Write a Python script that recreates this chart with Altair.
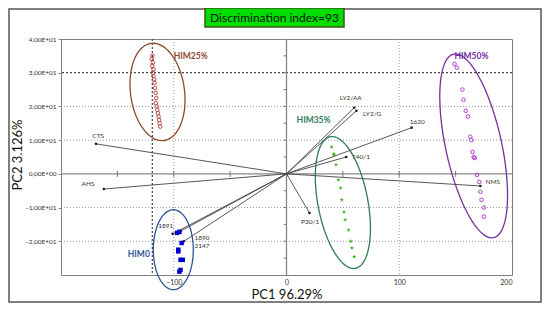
import altair as alt
import pandas as pd
import numpy as np

# ---------------- data ----------------
him25_x = [-119, -119.5, -118.5, -119, -118, -118.5, -118, -117.5, -117, -116.5, -116, -115.5, -116, -115, -114.5, -114, -113.5, -113, -112.5, -112]
him25_y = [35, 34, 33, 32, 31, 30, 29, 28, 27, 25.5, 24, 22.5, 21, 20, 19, 18, 17, 16, 15, 14]

him50_x = [149, 151, 156, 157, 159, 161, 163, 164, 165, 166, 167, 169, 171, 172, 173, 175, 175]
him50_y = [32.6, 31.5, 25, 22, 18.7, 17, 11, 10, 6.5, 5, 4.7, -0.3, -2.4, -5.3, -7.7, -10, -12.7]

him35_x = [40, 42, 42, 44, 46, 48, 49, 51, 52, 55, 57, 58, 60]
him35_y = [8, 5.6, 6, 2.7, -1.8, -4.2, -7.7, -11.3, -13.6, -16.6, -20, -22, -24.6]

him0_x = [-97, -95, -93, -96, -96, -92, -94, -94, -95]
him0_y = [-17.5, -17.2, -20.5, -22.5, -23, -25.5, -25.5, -28.5, -29]

load_names = ["CTS", "AHS", "1891", "1890", "2147", "P30/1", "T40/1", "NMS", "1620", "LY2/AA", "LY2/G"]
load_x = [-169, -162, -101, -94, -91, 20.4, 53, 172, 111, 60, 62]
load_y = [8.9, -4.5, -17.8, -17.0, -20.0, -11.6, 5.0, -3.6, 13.7, 19.6, 18.7]
lab_x = [-167, -176, -107, -75, -75, 21, 66, 183, 116, 57, 76]
lab_y = [11.3, -3.0, -15.4, -19.0, -21.4, -14.2, 5.0, -2.4, 15.4, 22.5, 17.8]

groups = ["HIM25%", "HIM50%", "HIM35%", "HIM0"]
group_lab_x = [-85, 164, 24, -131]
group_lab_y = [35, 35, 16, -23.7]
# ellipse: centre (data), half axes (px), tilt (deg, top leaning left)
ell_cx = [-114.4, 166, 50, -100.4]
ell_cy = [24.3, 8.3, -8.5, -22.5]
ell_a = [49, 94, 67, 40]
ell_b = [27, 28, 25, 20]
ell_t = [7.6, 12.3, 10.8, 0]

ell_colors = ["#8B4A2B", "#7030A0", "#2E7D5B", "#2F5597"]
lab_colors = ["#B5442F", "#7030A0", "#2EA07A", "#2F5597"]
pt_colors = ["#B8504A", "#B040D0", "#44B020", "#0000CC"]

grid_x = [-100, 100]
grid_y = [-20, -10, 10, 20]
dash_x = [-119]
dash_y = [30]
hticks = [-150, -100, -50, 50, 100, 150]
vticks = [-25, -20, -15, -10, -5, 5, 10, 15, 20, 25, 30, 35]

# ---------------- layout ----------------
W, H = 451, 236
XD, YD = [-200, 200], [-30, 40]
sx = W / (XD[1] - XD[0])
sy = H / (YD[1] - YD[0])
FONT = "Lato"

xs = alt.Scale(domain=XD, nice=False, zero=False)
ys = alt.Scale(domain=YD, nice=False, zero=False)
xaxis = alt.Axis(values=[-100, 0, 100, 200], labelFontSize=7, labelColor="#333", domain=False, ticks=False,
                 grid=False, title="PC1 96.29%", titleFontSize=13, titleFont=FONT, titleFontWeight="normal",
                 labelPadding=3, titlePadding=3, titleColor="#111", labelFont=FONT)
yaxis = alt.Axis(values=[-20, -10, 0, 10, 20, 30, 40], labelFontSize=6.5, labelColor="#333", domain=False,
                 ticks=True, tickSize=3, tickColor="#888", grid=False, title=None, labelFont=FONT,
                 labelExpr="datum.value == 0 ? '0,00E+00' : replace(format(datum.value/10, '.2f'), '.', ',') + 'E+01'")


def X(f):
    return alt.X(f, type="quantitative", scale=xs, axis=xaxis)


def Y(f):
    return alt.Y(f, type="quantitative", scale=ys, axis=yaxis)


# points
pts = []
for g, xx, yy in zip(groups, [him25_x, him50_x, him35_x, him0_x], [him25_y, him50_y, him35_y, him0_y]):
    for a, b in zip(xx, yy):
        pts.append({"g": g, "x": a, "y": b})
pts = pd.DataFrame(pts)

# ellipses
ell = []
phi = np.linspace(0, 2 * np.pi, 73)
for g, cx, cy, a, b, t in zip(groups, ell_cx, ell_cy, ell_a, ell_b, ell_t):
    tr = np.radians(t)
    ux, uy = -np.sin(tr), np.cos(tr)
    vx, vy = np.cos(tr), np.sin(tr)
    for i, p in enumerate(phi):
        px = a * np.cos(p) * ux + b * np.sin(p) * vx
        py = a * np.cos(p) * uy + b * np.sin(p) * vy
        ell.append({"g": g, "i": i, "x": cx + px / sx, "y": cy + py / sy})
ell = pd.DataFrame(ell)

loads = pd.DataFrame({"n": load_names, "x": load_x, "y": load_y, "lx": lab_x, "ly": lab_y, "x0": 0, "y0": 0})
glabs = pd.DataFrame({"g": groups, "x": group_lab_x, "y": group_lab_y})
color = alt.Color("g:N", scale=alt.Scale(domain=groups, range=ell_colors), legend=None)

layers = []
# page border
layers.append(alt.Chart(pd.DataFrame({"a": [0]})).mark_rect(fill=None, stroke="#555", strokeWidth=1.5).encode(
    x=alt.value(-52), x2=alt.value(480), y=alt.value(-30), y2=alt.value(263)))
# grid
layers.append(alt.Chart(pd.DataFrame({"v": grid_y})).mark_rule(color="#999", strokeDash=[1, 2], strokeWidth=1).encode(y=Y("v")))
layers.append(alt.Chart(pd.DataFrame({"v": grid_x})).mark_rule(color="#999", strokeDash=[1, 2], strokeWidth=1).encode(x=X("v")))
layers.append(alt.Chart(pd.DataFrame({"v": dash_y})).mark_rule(color="#444", strokeDash=[2, 2], strokeWidth=1.2).encode(y=Y("v")))
layers.append(alt.Chart(pd.DataFrame({"v": dash_x})).mark_rule(color="#444", strokeDash=[2, 2], strokeWidth=1.2).encode(x=X("v")))
# zero lines
layers.append(alt.Chart(pd.DataFrame({"v": [0]})).mark_rule(color="#888", strokeWidth=1.3).encode(y=Y("v")))
layers.append(alt.Chart(pd.DataFrame({"v": [0]})).mark_rule(color="#888", strokeWidth=1.3).encode(x=X("v")))
ht = pd.DataFrame({"v": hticks, "a": -0.9, "b": 0.9})
layers.append(alt.Chart(ht).mark_rule(color="#777", strokeWidth=1).encode(x=X("v"), y=Y("a"), y2="b"))
vt = pd.DataFrame({"v": vticks, "a": -2.5, "b": 0})
layers.append(alt.Chart(vt).mark_rule(color="#777", strokeWidth=1).encode(y=Y("v"), x=X("a"), x2="b"))
# loadings
layers.append(alt.Chart(loads).mark_rule(color="#444", strokeWidth=0.9).encode(x=X("x0"), y=Y("y0"), x2="x", y2="y"))
layers.append(alt.Chart(loads).mark_circle(color="#222", size=7, opacity=1).encode(x=X("x"), y=Y("y")))
layers.append(alt.Chart(loads).mark_text(fontSize=6.5, color="#333", font=FONT).encode(x=X("lx"), y=Y("ly"), text="n:N"))
# ellipses
layers.append(alt.Chart(ell).mark_line(strokeWidth=1.3).encode(x=X("x"), y=Y("y"), color=color, detail="g:N", order="i:Q"))
# points
shp = {"HIM25%": "circle", "HIM50%": "circle", "HIM35%": "M0,-1L0.24,-0.31L0.95,-0.31L0.38,0.12L0.59,0.81L0,0.38L-0.59,0.81L-0.38,0.12L-0.95,-0.31L-0.24,-0.31Z", "HIM0": "square"}
for g, c in zip(groups, pt_colors):
    d = pts[pts.g == g]
    filled = g in ("HIM35%", "HIM0")
    if filled:
        m = alt.Chart(d).mark_point(shape=shp[g], filled=True, color=c, size=20, opacity=1)
    else:
        m = alt.Chart(d).mark_point(shape=shp[g], filled=False, color=c, size=13, strokeWidth=1, opacity=1)
    layers.append(m.encode(x=X("x"), y=Y("y")))
# cluster labels
layers.append(alt.Chart(glabs).mark_text(fontSize=8.5, fontWeight="bold", font=FONT).encode(
    x=X("x"), y=Y("y"), text="g:N",
    color=alt.Color("g:N", scale=alt.Scale(domain=groups, range=lab_colors), legend=None)))
# title box
layers.append(alt.Chart(pd.DataFrame({"a": [0]})).mark_rect(fill="#00DD00", stroke="#3A5A1A", strokeWidth=1.5).encode(
    x=alt.value(144), x2=alt.value(283), y=alt.value(-31), y2=alt.value(-12)))
layers.append(alt.Chart(pd.DataFrame({"t": ["Discrimination index=93"]})).mark_text(fontSize=12, font=FONT, color="#111").encode(
    x=alt.value(213.5), y=alt.value(-21.5), text="t:N"))
# y title
layers.append(alt.Chart(pd.DataFrame({"t": ["PC2 3.126%"]})).mark_text(fontSize=13, font=FONT, color="#111", angle=270).encode(
    x=alt.value(-43), y=alt.value(116), text="t:N"))

chart = alt.layer(*layers).properties(
    width=W, height=H,
    autosize=alt.AutoSizeParams(type="none"),
    padding={"left": 53, "top": 31, "right": 30, "bottom": 28},
).configure_view(stroke="#808080", strokeWidth=1)

chart.save("out.html", embed_options={"renderer": "svg", "actions": False})
